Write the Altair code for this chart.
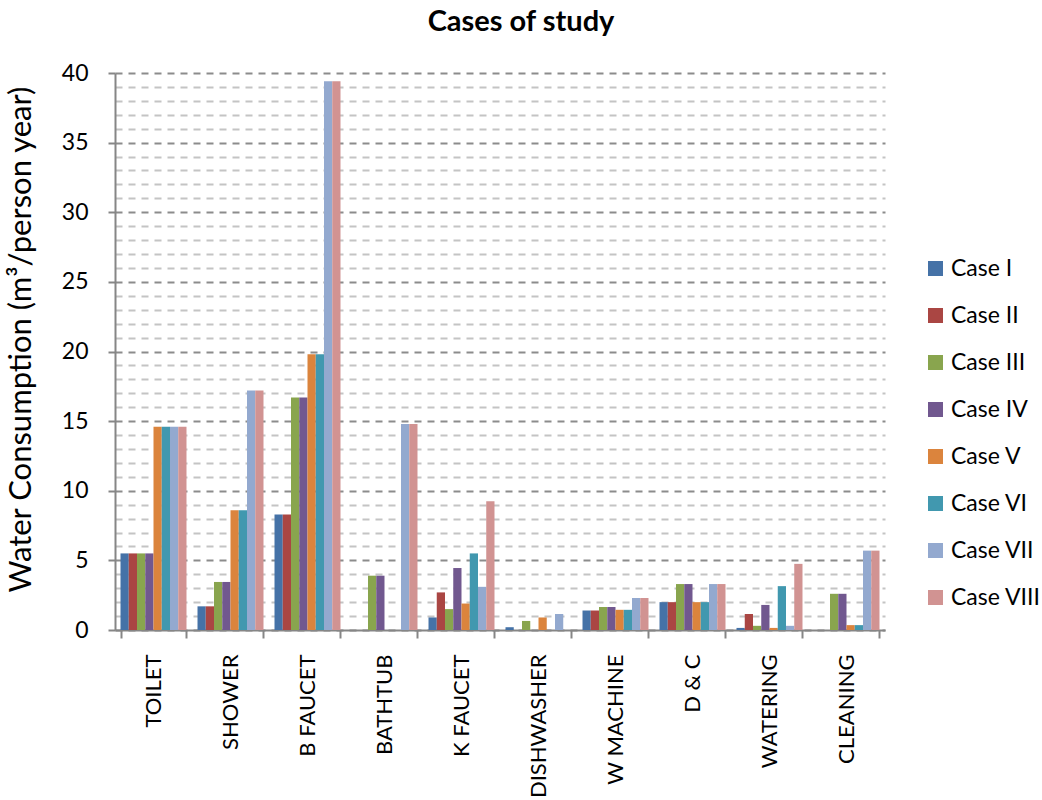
import altair as alt
import pandas as pd

# Water end uses and the eight study cases (m³ per person per year)
categories = ["TOILET", "SHOWER", "B FAUCET", "BATHTUB", "K FAUCET",
              "DISHWASHER", "W MACHINE", "D & C", "WATERING", "CLEANING"]
cases = ["Case I", "Case II", "Case III", "Case IV",
         "Case V", "Case VI", "Case VII", "Case VIII"]

case_i = [5.5, 1.7, 8.3, 0, 0.9, 0.2, 1.4, 2.0, 0.15, 0]
case_ii = [5.5, 1.7, 8.3, 0, 2.7, 0, 1.4, 2.0, 1.15, 0]
case_iii = [5.5, 3.45, 16.7, 3.9, 1.5, 0.65, 1.65, 3.3, 0.3, 2.6]
case_iv = [5.5, 3.45, 16.7, 3.9, 4.45, 0, 1.65, 3.3, 1.8, 2.6]
case_v = [14.6, 8.6, 19.8, 0, 1.9, 0.9, 1.45, 2.0, 0.15, 0.35]
case_vi = [14.6, 8.6, 19.8, 0, 5.5, 0, 1.45, 2.0, 3.15, 0.35]
case_vii = [14.6, 17.2, 39.4, 14.8, 3.1, 1.15, 2.3, 3.3, 0.3, 5.7]
case_viii = [14.6, 17.2, 39.4, 14.8, 9.25, 0, 2.3, 3.3, 4.75, 5.7]

series = [case_i, case_ii, case_iii, case_iv, case_v, case_vi, case_vii, case_viii]
colors = ["#4572A7", "#AA4643", "#89A54E", "#71588F",
          "#DB843D", "#4198AF", "#93A9CF", "#D19392"]

rows = []
for case, values in zip(cases, series):
    for cat, v in zip(categories, values):
        rows.append({"use": cat, "case": case, "value": v})
df = pd.DataFrame(rows)

FONT = "Lato"
major = "datum.value % 5 === 0"

chart = alt.Chart(df).mark_bar().encode(
    x=alt.X("use:N", sort=categories,
            scale=alt.Scale(paddingInner=0.143, paddingOuter=0.0715),
            axis=alt.Axis(title=None, labelAngle=-90, labelFontSize=22,
                          labelFont=FONT, labelColor="#000000",
                          labelPadding=16, tickBand="extent", tickSize=8,
                          tickColor="#868686", tickWidth=2,
                          domainColor="#868686", domainWidth=2, grid=False)),
    xOffset=alt.XOffset("case:N", sort=cases),
    y=alt.Y("value:Q",
            scale=alt.Scale(domain=[0, 40], nice=False),
            axis=alt.Axis(title="Water Consumption (m³/person year)",
                          titleFont=FONT, titleFontSize=31,
                          titleFontWeight="normal", titleColor="#000000",
                          titlePadding=24, titleY=266,
                          values=list(range(0, 41)),
                          labelExpr=f"{major} ? datum.label : ''",
                          labelFont=FONT, labelFontSize=23,
                          labelColor="#000000", labelPadding=20,
                          tickSize=7, tickWidth=2,
                          tickColor={"condition": {"test": major, "value": "#868686"},
                                     "value": "rgba(0,0,0,0)"},
                          domainColor="#868686", domainWidth=2,
                          grid=True, gridDash=[7, 6], gridWidth=2,
                          gridColor={"condition": {"test": major, "value": "#8c8c8c"},
                                     "value": "#c4c4c4"})),
    color=alt.Color("case:N", sort=cases,
                    scale=alt.Scale(domain=cases, range=colors),
                    legend=alt.Legend(title=None, orient="none",
                                      legendX=809, legendY=184,
                                      symbolType="square", symbolSize=225,
                                      symbolStrokeWidth=0, labelFont=FONT,
                                      labelFontSize=23, labelColor="#000000",
                                      labelOffset=4, rowPadding=23)),
).properties(
    width=770,
    height=557,
    title=alt.TitleParams("Cases of study", font=FONT, fontSize=29,
                          fontWeight="bold", color="#000000",
                          anchor="middle", dx=21, offset=25),
    autosize=alt.AutoSizeParams(type="none"),
    padding={"left": 115, "top": 73, "right": 157, "bottom": 170},
).configure_view(stroke=None)

chart.save("out.html", embed_options={"renderer": "svg", "actions": False})
